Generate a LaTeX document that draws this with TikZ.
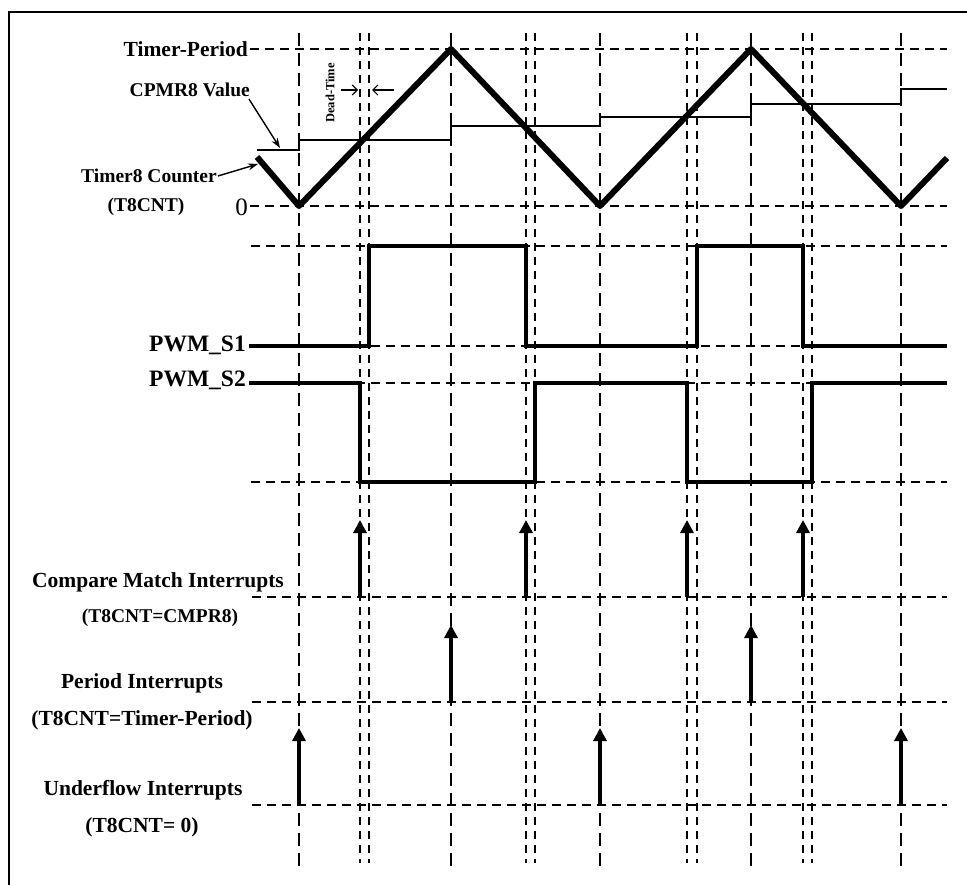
\documentclass[tikz,border=0pt]{standalone}
\usepackage{fontspec}
\setmainfont{Liberation Serif}
\usetikzlibrary{arrows.meta}
\begin{document}
\begin{tikzpicture}[x=1pt,y=-1pt,
  hgrid/.style={line width=1.8pt, dash pattern=on 9pt off 6pt},
  maingrid/.style={line width=2.8pt, dash pattern=on 13pt off 7pt},
  pairgrid/.style={line width=1.8pt, dash pattern=on 8pt off 6pt},
  wave/.style={line width=6pt, line join=round},
  pwm/.style={line width=4.8pt, line join=miter},
  cmpline/.style={line width=1.4pt},
  intr/.style={line width=3.6pt, -{Triangle[width=13pt,length=13pt]}},
  thinarrow/.style={line width=1.4pt, -{Stealth[length=10pt,width=7pt]}},
  dtarrow/.style={line width=1.2pt, -{Straight Barb[length=5pt,width=10pt]}},
  lblA/.style={font=\bfseries\fontsize{21.5}{24}\selectfont, inner sep=0pt},
  lblB/.style={font=\bfseries\fontsize{19.5}{22}\selectfont, inner sep=0pt},
  lblP/.style={font=\bfseries\fontsize{23.5}{26}\selectfont, inner sep=0pt},
]
\useasboundingbox (0,0) rectangle (967,885);
% partial frame
\draw[line width=1.5pt] (9,885) -- (9,12) -- (967,12);

% horizontal reference lines
\foreach \y/\xa in {49/250,206/250,246/251,346/251,383/251,482/251,597/252,702/252,805/252}
  \draw[hgrid] (\xa,\y) -- (947,\y);

% vertical reference lines
\foreach \x in {299,451,600,751,901}
  \draw[maingrid] (\x,33) -- (\x,868);
\foreach \x in {360,369,526,535,687,697,803,812}
  \draw[pairgrid] (\x,33) -- (\x,863);

% compare value (thin step line)
\draw[cmpline] (257,150) -- (299,150) -- (299,140) -- (451,140) -- (451,126)
  -- (600,126) -- (600,117) -- (751,117) -- (751,104) -- (901,104) -- (901,89) -- (947,89);

% timer counter triangle
\coordinate (cntstart) at (257,157);
\draw[wave] (cntstart) -- (299,206) -- (451,49) -- (600,206) -- (751,49) -- (901,206) -- (947,158);

% PWM signals
\draw[pwm] (249,346) -- (369,346) -- (369,246) -- (526,246) -- (526,346) -- (697,346)
  -- (697,246) -- (803,246) -- (803,346) -- (947,346);
\draw[pwm] (249,383) -- (360,383) -- (360,482) -- (535,482) -- (535,383) -- (687,383)
  -- (687,482) -- (812,482) -- (812,383) -- (947,383);

% interrupts
\foreach \x in {360,526,687,803} \draw[intr] (\x,597) -- (\x,520);
\foreach \x in {451,751} \draw[intr] (\x,702) -- (\x,625);
\foreach \x in {299,600,901} \draw[intr] (\x,805) -- (\x,728);

% labels
\node[lblA, anchor=east] (tp) at (248,49) {Timer-Period};
\node[lblB, anchor=east] (cpmr) at (250,90) {CPMR8 Value};
\node[lblB, anchor=east] (t8c) at (217,176) {Timer8 Counter};
\node[lblB] (t8cnt) at (146,207) {(T8CNT)};
\node[font=\fontsize{25}{26}\selectfont, inner sep=0pt, anchor=east] (zero) at (248,207) {0};
\node[font=\bfseries\fontsize{12.5}{13}\selectfont, inner sep=0pt, rotate=90] (dt) at (330,93) {Dead-Time};
\node[lblP, anchor=east] (s1) at (246,345) {PWM\_S1};
\node[lblP, anchor=east] (s2) at (246,380) {PWM\_S2};
\node[lblA] (cmi) at (158,582) {Compare Match Interrupts};
\node[lblB] (cmi2) at (160,618) {(T8CNT=CMPR8)};
\node[lblA] (pi) at (142,683) {Period Interrupts};
\node[lblA] (pi2) at (142,720) {(T8CNT=Timer-Period)};
\node[lblA] (ui) at (143,790) {Underflow Interrupts};
\node[lblA] (ui2) at (142,827) {(T8CNT= 0)};

% pointer arrows
\coordinate (cpmrtip) at (280,148);
\draw[thinarrow] ([xshift=-1pt,yshift=-2pt]cpmr.south east) -- (cpmrtip);
\coordinate (t8tip) at (258,164);
\draw[thinarrow] ([xshift=1pt]t8c.east) -- (t8tip);
\coordinate (dta) at (341,90); \coordinate (dtb) at (358,90);
\coordinate (dtc) at (394,90); \coordinate (dtd) at (372,90);
\draw[dtarrow] (dta) -- (dtb);
\draw[dtarrow] (dtc) -- (dtd);
\end{tikzpicture}
\end{document}
